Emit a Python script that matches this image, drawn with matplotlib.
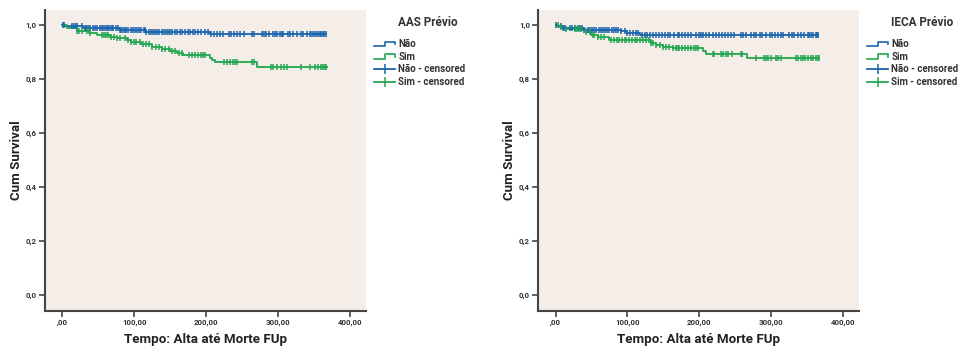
import matplotlib
matplotlib.use("Agg")
import matplotlib.pyplot as plt
from matplotlib.lines import Line2D
from matplotlib.legend_handler import HandlerBase
import numpy as np

plt.rcParams['font.family'] = ['Roboto', 'DejaVu Sans']
plt.rcParams['font.weight'] = 'bold'

BLUE = '#1a63ad'
GREEN = '#22a64f'
BG = '#f5eee8'
SPINE = '#444444'

# --- AAS Prévio ---
aas_nao_t = [0, 3, 29, 80, 117, 205, 366]
aas_nao_s = [1.0, 0.994, 0.988, 0.982, 0.975, 0.968, 0.968]
aas_sim_t = [0, 6, 20, 38, 48, 66, 76, 90, 96, 110, 124, 138, 150, 160, 168, 205, 208, 212, 271, 368]
aas_sim_s = [1.0, 0.988, 0.979, 0.969, 0.963, 0.957, 0.951, 0.945, 0.936, 0.929, 0.920, 0.911,
             0.904, 0.895, 0.887, 0.879, 0.870, 0.861, 0.846, 0.846]
aas_nao_cens = [1, 2, 14, 16, 19, 21, 28, 31, 33, 35, 37, 39, 42, 45, 48, 52, 55, 57, 59, 62, 64, 66,
                69, 71, 74, 77, 80, 82, 84, 87, 89, 92, 95, 98, 101, 104, 107, 110, 113, 115, 117, 120,
                123, 126, 129, 132, 135, 138, 141, 144, 147, 150, 153, 156, 159, 163, 167, 171, 175,
                178, 182, 185, 189, 193, 198, 203, 207, 211, 215, 219, 223, 231, 235, 239, 243, 247,
                252, 263, 266, 277, 280, 283, 287, 293, 296, 298, 302, 305, 307, 313, 317, 321, 326,
                331, 335, 340, 344, 347, 350, 353, 355, 358, 360, 362, 364, 366]
aas_sim_cens = [20, 23, 27, 34, 37, 39, 55, 58, 61, 64, 68, 72, 76, 80, 87, 92, 96, 100, 103, 108,
                112, 116, 121, 125, 130, 134, 139, 143, 148, 152, 156, 162, 167, 176, 180, 184, 188,
                193, 196, 198, 225, 229, 233, 237, 240, 243, 263, 266, 290, 293, 298, 304, 308, 312,
                332, 344, 351, 355, 359, 362, 365, 367]

# --- IECA Prévio ---
ieca_nao_t = [0, 4, 10, 40, 91, 100, 117, 366]
ieca_nao_s = [1.0, 0.994, 0.988, 0.982, 0.976, 0.970, 0.963, 0.963]
ieca_sim_t = [0, 4, 15, 43, 50, 59, 75, 133, 140, 150, 163, 205, 210, 267, 367]
ieca_sim_s = [1.0, 0.993, 0.984, 0.975, 0.963, 0.954, 0.945, 0.932, 0.926, 0.920, 0.913,
              0.903, 0.892, 0.877, 0.877]
ieca_nao_cens = [0, 8, 10, 13, 20, 23, 27, 31, 34, 37, 40, 45, 48, 51, 54, 57, 60, 63, 66, 69, 72,
                 75, 78, 81, 84, 87, 91, 96, 100, 104, 108, 112, 115, 120, 124, 128, 132, 136, 140,
                 144, 148, 152, 156, 160, 165, 170, 172, 176, 180, 184, 188, 196, 200, 203, 205, 210,
                 214, 219, 224, 228, 232, 236, 240, 244, 249, 258, 261, 265, 272, 276, 279, 284, 288,
                 293, 298, 302, 306, 310, 314, 316, 325, 329, 332, 337, 342, 346, 351, 353, 356, 359,
                 362, 364, 366]
ieca_sim_cens = [3, 8, 15, 27, 30, 33, 36, 43, 48, 52, 54, 59, 63, 68, 77, 81, 85, 89, 93, 96, 98,
                 102, 106, 110, 114, 118, 122, 126, 130, 133, 135, 140, 145, 150, 154, 158, 163, 167,
                 170, 172, 176, 180, 184, 188, 193, 196, 198, 219, 221, 230, 233, 237, 240, 245, 258,
                 260, 279, 290, 293, 296, 300, 307, 310, 314, 335, 338, 342, 345, 347, 351, 355, 359,
                 362, 365, 367]

yticks = [0.0, 0.2, 0.4, 0.6, 0.8, 1.0]
ytick_labels = ['0,0', '0,2', '0,4', '0,6', '0,8', '1,0']
xticks = [0, 100, 200, 300, 400]
xtick_labels = [',00', '100,00', '200,00', '300,00', '400,00']


def surv_at(times, surv, pts):
    idx = np.searchsorted(times, pts, side='right') - 1
    return np.array(surv)[idx]


class StepHandler(HandlerBase):
    def create_artists(self, legend, orig, xd, yd, w, h, fs, trans):
        x = [-xd, -xd + w * 0.5, -xd + w * 0.5, -xd + w, -xd + w]
        y = [-yd + h * 0.1, -yd + h * 0.1, -yd + h * 0.8, -yd + h * 0.8, -yd + h * 0.45]
        ln = Line2D(x, y, color=orig.get_color(), lw=1.2, transform=trans)
        return [ln]


def km_panel(ax, nao_t, nao_s, sim_t, sim_s, nao_c, sim_c):
    ax.set_facecolor(BG)
    ax.step(nao_t, nao_s, where='post', color=BLUE, lw=1.3)
    ax.step(sim_t, sim_s, where='post', color=GREEN, lw=1.3)
    ax.plot(nao_c, surv_at(nao_t, nao_s, nao_c), ls='none', marker='|', ms=5, mew=1.1, color=BLUE)
    ax.plot(sim_c, surv_at(sim_t, sim_s, sim_c), ls='none', marker='|', ms=5, mew=1.1, color=GREEN)
    ax.set_xlim(-24, 422)
    ax.set_ylim(-0.058, 1.055)
    ax.set_xticks(xticks)
    ax.set_xticklabels(xtick_labels)
    ax.set_yticks(yticks)
    ax.set_yticklabels(ytick_labels)
    for s in ['top', 'right']:
        ax.spines[s].set_visible(False)
    for s in ['left', 'bottom']:
        ax.spines[s].set_color(SPINE)
        ax.spines[s].set_linewidth(1.5)
    ax.tick_params(direction='out', length=4, width=1.2, color=SPINE, labelsize=5.7, labelcolor='#333333', pad=2)
    for lab in ax.get_xticklabels() + ax.get_yticklabels():
        lab.set_fontweight('bold')
    ax.set_xlabel('Tempo: Alta até Morte FUp', fontsize=9.6, fontweight='bold', color='#222222', labelpad=5)
    ax.set_ylabel('Cum Survival', fontsize=9.6, fontweight='bold', color='#222222', labelpad=2)


fig = plt.figure(figsize=(9.58, 3.47), dpi=100)
ax1 = fig.add_axes([45 / 958, 1 - 311 / 347, 321 / 958, 301 / 347])
ax2 = fig.add_axes([538.3 / 958, 1 - 311 / 347, 320.4 / 958, 301 / 347])

km_panel(ax1, aas_nao_t, aas_nao_s, aas_sim_t, aas_sim_s, aas_nao_cens, aas_sim_cens)
km_panel(ax2, ieca_nao_t, ieca_nao_s, ieca_sim_t, ieca_sim_s, ieca_nao_cens, ieca_sim_cens)

handles = [Line2D([], [], color=BLUE), Line2D([], [], color=GREEN),
           Line2D([], [], color=BLUE, lw=1.3, marker='|', ms=7, mew=1.1),
           Line2D([], [], color=GREEN, lw=1.3, marker='|', ms=7, mew=1.1)]
labels = ['Não', 'Sim', 'Não - censored', 'Sim - censored']
hmap = {handles[0]: StepHandler(), handles[1]: StepHandler()}

for title, lx, tx in [('AAS Prévio', 374, 428), ('IECA Prévio', 867, 922)]:
    fig.text(tx / 958, 1 - 23 / 347, title, ha='center', va='center', fontsize=8.5, fontweight='bold', color='#333333')
    fig.legend(handles, labels, handler_map=hmap, loc='upper left',
               bbox_to_anchor=(lx / 958, 1 - 39 / 347), bbox_transform=fig.transFigure,
               frameon=False, borderpad=0, borderaxespad=0, handlelength=2.2, handletextpad=0.3,
               labelspacing=0.28, prop={'size': 7, 'weight': 'bold'}, labelcolor='#333333')

fig.savefig('out.png', dpi=100)
